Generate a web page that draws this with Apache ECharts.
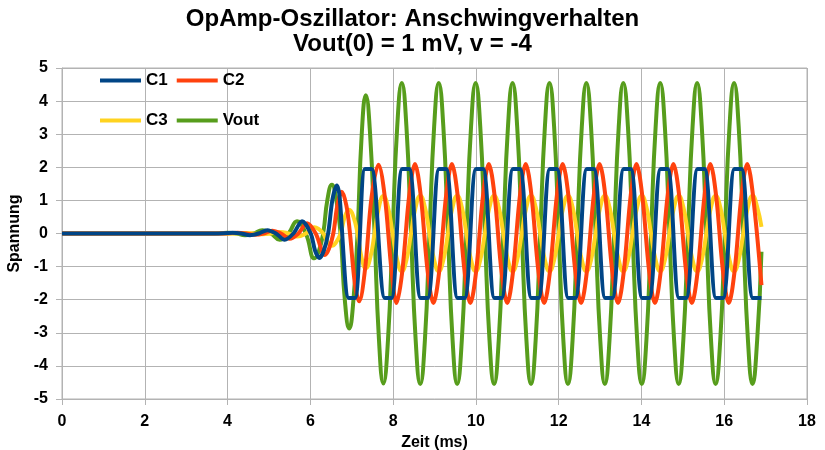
<!DOCTYPE html>
<html>
<head>
<meta charset="utf-8">
<script src="https://cdn.jsdelivr.net/npm/echarts@6/dist/echarts.min.js"></script>
<style>
  html, body { margin: 0; padding: 0; background: #fff; }
  #main { width: 825px; height: 450px; }
</style>
</head>
<body>
<div id="main"></div>
<script>
// Zeit (ms) fuer Vout und C3 (C3 ~ -Vout/4)
var tOut = [0, 3.6, 4.0, 4.21, 4.42, 4.63, 4.84, 5.05, 5.26, 5.47, 5.68, 5.89, 6.1, 6.205, 6.31, 6.415, 6.52, 6.625, 6.73, 6.835, 6.94, 7.04, 7.14, 7.24, 7.34, 7.446, 7.552, 7.658,
  7.764, 7.876, 7.987, 8.099, 8.21, 8.322, 8.433, 8.545, 8.656, 8.768, 8.879, 8.991, 9.102, 9.214, 9.325, 9.437,
  9.548, 9.66, 9.771, 9.883, 9.994, 10.106, 10.217, 10.329, 10.44, 10.552, 10.663, 10.775, 10.886, 10.998, 11.109, 11.221,
  11.332, 11.444, 11.555, 11.667, 11.778, 11.89, 12.001, 12.113, 12.224, 12.336, 12.447, 12.559, 12.67, 12.782, 12.893, 13.005,
  13.116, 13.228, 13.339, 13.451, 13.562, 13.674, 13.785, 13.897, 14.008, 14.12, 14.231, 14.343, 14.454, 14.566, 14.677, 14.789,
  14.9, 15.012, 15.123, 15.235, 15.346, 15.458, 15.569, 15.681, 15.792, 15.904, 16.015, 16.127, 16.238, 16.35, 16.461, 16.573,
  16.684, 16.796, 16.9];
var vOut = [0, 0, 0.02, 0, -0.05, 0, 0.1, 0, -0.19, 0, 0.37, 0, -0.75, -0.53, 0, 1.04, 1.47, 1.04, 0, -2.03, -2.87, -2.03, 0, 2.96, 4.18, 2.96, 0, -3.2,
  -4.53, -3.22, 0, 3.22, 4.55, 3.22, 0, -3.22, -4.55, -3.22, 0, 3.22, 4.55, 3.22, 0, -3.22,
  -4.55, -3.22, 0, 3.22, 4.55, 3.22, 0, -3.22, -4.55, -3.22, 0, 3.22, 4.55, 3.22, 0, -3.22,
  -4.55, -3.22, 0, 3.22, 4.55, 3.22, 0, -3.22, -4.55, -3.22, 0, 3.22, 4.55, 3.22, 0, -3.22,
  -4.55, -3.22, 0, 3.22, 4.55, 3.22, 0, -3.22, -4.55, -3.22, 0, 3.22, 4.55, 3.22, 0, -3.22,
  -4.55, -3.22, 0, 3.22, 4.55, 3.22, 0, -3.22, -4.55, -3.22, 0, 3.22, 4.55, 3.22, 0, -3.22,
  -4.55, -3.22, -0.55];
var vC3 = [0, 0, -0.005, 0, 0.012, 0, -0.025, 0, 0.048, 0, -0.092, 0, 0.19, 0.13, 0, -0.26, -0.37, -0.26, 0, 0.51, 0.72, 0.51, 0, -0.74, -1.05, -0.74, 0, 0.8,
  1.13, 0.8, 0, -0.8, -1.14, -0.8, 0, 0.8, 1.14, 0.8, 0, -0.8, -1.14, -0.8, 0, 0.8,
  1.14, 0.8, 0, -0.8, -1.14, -0.8, 0, 0.8, 1.14, 0.8, 0, -0.8, -1.14, -0.8, 0, 0.8,
  1.14, 0.8, 0, -0.8, -1.14, -0.8, 0, 0.8, 1.14, 0.8, 0, -0.8, -1.14, -0.8, 0, 0.8,
  1.14, 0.8, 0, -0.8, -1.14, -0.8, 0, 0.8, 1.14, 0.8, 0, -0.8, -1.14, -0.8, 0, 0.8,
  1.14, 0.8, 0, -0.8, -1.14, -0.8, 0, 0.8, 1.14, 0.8, 0, -0.8, -1.14, -0.8, 0, 0.8,
  1.14, 0.8, 0.2];

// C1 (begrenzt auf ca. +-1.95 V)
var tC1 = [0, 3.7, 4.12, 4.33, 4.54, 4.75, 4.96, 5.17, 5.38, 5.59, 5.8, 6.01, 6.115, 6.22, 6.325, 6.43, 6.535, 6.64, 6.7, 6.93, 7.08, 7.32, 7.48, 7.8, 7.96,
  8.22, 8.39, 8.666, 8.836, 9.112, 9.282, 9.558, 9.728, 10.004, 10.174, 10.45, 10.62, 10.896, 11.066, 11.342, 11.512,
  11.788, 11.958, 12.234, 12.404, 12.68, 12.85, 13.126, 13.296, 13.572, 13.742, 14.018, 14.188, 14.464, 14.634, 14.91, 15.08,
  15.356, 15.526, 15.802, 15.972, 16.248, 16.418, 16.694, 16.9];
var vC1 = [0, 0, 0.02, 0, -0.05, 0, 0.1, 0, -0.19, 0, 0.37, 0, -0.52, -0.74, -0.52, 0, 1.03, 1.45, 1.2, -1.95, -1.95, 1.95, 1.95, -1.95, -1.95,
  1.95, 1.95, -1.95, -1.95, 1.95, 1.95, -1.95, -1.95, 1.95, 1.95, -1.95, -1.95, 1.95, 1.95, -1.95, -1.95,
  1.95, 1.95, -1.95, -1.95, 1.95, 1.95, -1.95, -1.95, 1.95, 1.95, -1.95, -1.95, 1.95, 1.95, -1.95, -1.95,
  1.95, 1.95, -1.95, -1.95, 1.95, 1.95, -1.95, -1.95];

// C2 (dreieckfoermig)
var tC2 = [0, 3.8, 4.24, 4.45, 4.66, 4.87, 5.08, 5.29, 5.5, 5.71, 5.92, 6.13, 6.35, 6.45, 6.555, 6.66, 6.76, 6.87, 6.95, 7.08, 7.18, 7.32, 7.48, 7.646, 7.8, 7.96, 8.082,
  8.22, 8.39, 8.528, 8.666, 8.836, 8.974, 9.112, 9.282, 9.42, 9.558, 9.728, 9.866,
  10.004, 10.174, 10.312, 10.45, 10.62, 10.758, 10.896, 11.066, 11.204, 11.342, 11.512, 11.65,
  11.788, 11.958, 12.096, 12.234, 12.404, 12.542, 12.68, 12.85, 12.988, 13.126, 13.296, 13.434,
  13.572, 13.742, 13.88, 14.018, 14.188, 14.326, 14.464, 14.634, 14.772, 14.91, 15.08, 15.218,
  15.356, 15.526, 15.664, 15.802, 15.972, 16.11, 16.248, 16.418, 16.556, 16.694, 16.9];
var vC2 = [0, 0, 0.02, 0, -0.04, 0, 0.085, 0, -0.16, 0, 0.31, 0, -0.65, -0.46, 0, 0.9, 1.26, 0.85, 0.1, -1.55, -2.05, -1.1, 1.1, 2.08, 1.1, -1.1, -2.1,
  -1.16, 1.16, 2.1, 1.16, -1.16, -2.1, -1.16, 1.16, 2.1, 1.16, -1.16, -2.1,
  -1.16, 1.16, 2.1, 1.16, -1.16, -2.1, -1.16, 1.16, 2.1, 1.16, -1.16, -2.1,
  -1.16, 1.16, 2.1, 1.16, -1.16, -2.1, -1.16, 1.16, 2.1, 1.16, -1.16, -2.1,
  -1.16, 1.16, 2.1, 1.16, -1.16, -2.1, -1.16, 1.16, 2.1, 1.16, -1.16, -2.1,
  -1.16, 1.16, 2.1, 1.16, -1.16, -2.1, -1.16, 1.16, 2.1, 1.16, -1.56];

var colors = ['#004586', '#ff420e', '#ffd320', '#579d1c'];

function pairs(t, v) {
  return t.map(function (x, i) { return [x, v[i]]; });
}

var chart = echarts.init(document.getElementById('main'));
var gridColor = '#b3b3b3';
var font = 'Liberation Sans';

var legendBase = {
  left: 100,
  padding: 0,
  orient: 'horizontal',
  icon: 'rect',
  itemWidth: 41,
  itemHeight: 4,
  itemGap: 9,
  textStyle: { fontFamily: font, fontSize: 17, fontWeight: 'bold', color: '#000' }
};

var option = {
  animation: false,
  color: colors,
  textStyle: { fontFamily: font },
  title: {
    text: 'OpAmp-Oszillator: Anschwingverhalten\nVout(0) = 1 mV, v = -4',
    left: 'center',
    top: 7,
    padding: 0,
    textStyle: { fontFamily: font, fontSize: 24, fontWeight: 'bold', color: '#000', lineHeight: 25 }
  },
  legend: [
    Object.assign({}, legendBase, { top: 72, data: ['C1', 'C2'] }),
    Object.assign({}, legendBase, { top: 112, data: ['C3', 'Vout'] })
  ],
  grid: {
    left: 62, right: 18, top: 68, bottom: 51,
    outerBoundsMode: 'none',
    show: true, borderColor: gridColor, borderWidth: 1
  },
  xAxis: {
    type: 'value', min: 0, max: 18, interval: 2,
    name: 'Zeit (ms)', nameLocation: 'middle', nameGap: 35,
    nameTextStyle: { fontFamily: font, fontSize: 16, fontWeight: 'bold', color: '#000' },
    axisLine: { onZero: false, lineStyle: { color: gridColor } },
    axisTick: { show: true, length: 6, lineStyle: { color: gridColor } },
    splitLine: { show: true, lineStyle: { color: gridColor } },
    axisLabel: { fontFamily: font, fontSize: 16, fontWeight: 'bold', color: '#000', margin: 15 }
  },
  yAxis: {
    type: 'value', min: -5, max: 5, interval: 1,
    name: 'Spannung', nameLocation: 'middle', nameGap: 34,
    nameTextStyle: { fontFamily: font, fontSize: 16, fontWeight: 'bold', color: '#000' },
    axisLine: { show: true, onZero: false, lineStyle: { color: gridColor } },
    axisTick: { show: true, length: 6, lineStyle: { color: gridColor } },
    splitLine: { show: true, lineStyle: { color: gridColor } },
    axisLabel: { fontFamily: font, fontSize: 16, fontWeight: 'bold', color: '#000', margin: 14 }
  },
  series: [
    { name: 'C1', type: 'line', z: 5, data: pairs(tC1, vC1), smooth: 0.3, showSymbol: false, lineStyle: { width: 4, color: colors[0] } },
    { name: 'C2', type: 'line', z: 4, data: pairs(tC2, vC2), smooth: 0.35, showSymbol: false, lineStyle: { width: 4, color: colors[1] } },
    { name: 'C3', type: 'line', z: 3, data: pairs(tOut, vC3), smooth: 0.5, showSymbol: false, lineStyle: { width: 4, color: colors[2] } },
    { name: 'Vout', type: 'line', z: 2, data: pairs(tOut, vOut), smooth: 0.5, showSymbol: false, lineStyle: { width: 4, color: colors[3] } }
  ]
};

chart.setOption(option);
</script>
</body>
</html>
